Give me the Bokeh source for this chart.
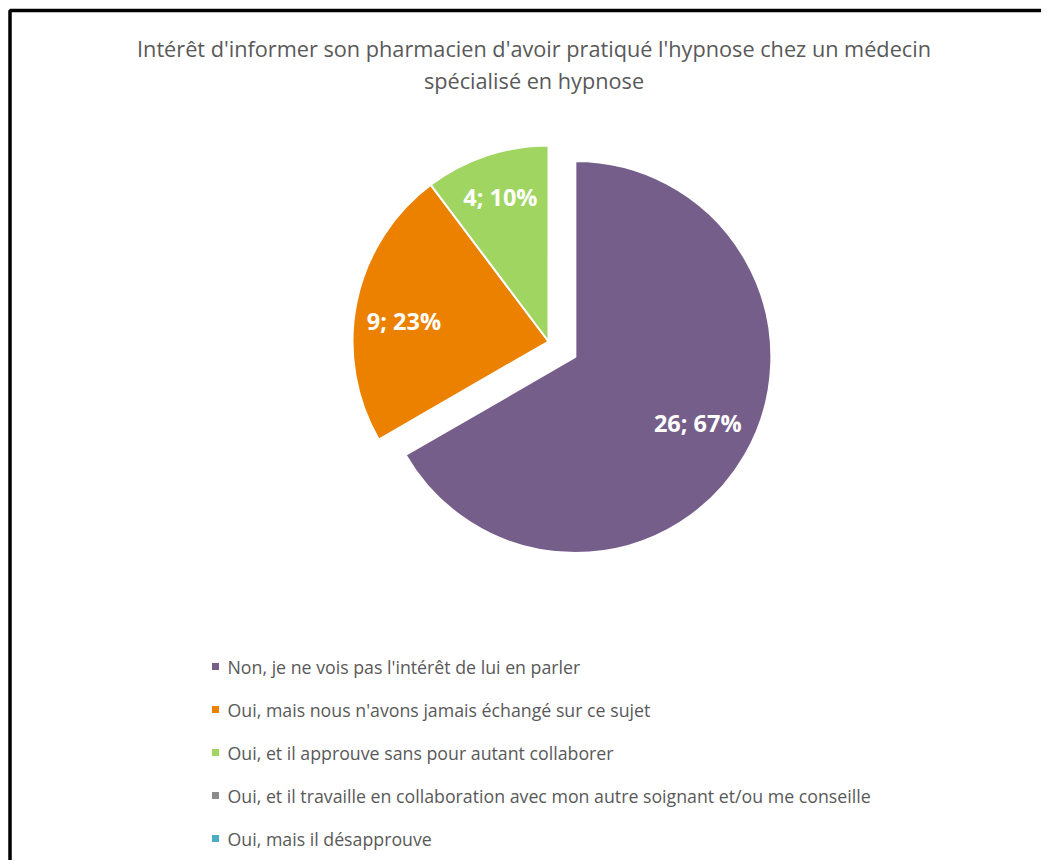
import math
from bokeh.plotting import figure
from bokeh.models import Range1d, ColumnDataSource
from bokeh.core.properties import value
from bokeh.embed import file_html
from bokeh.resources import INLINE

# ---- data ----
title_lines = ["Intérêt d'informer son pharmacien d'avoir pratiqué l'hypnose chez un médecin",
               "spécialisé en hypnose"]
categories = ["Non, je ne vois pas l'intérêt de lui en parler",
              "Oui, mais nous n'avons jamais échangé sur ce sujet",
              "Oui, et il approuve sans pour autant collaborer",
              "Oui, et il travaille en collaboration avec mon autre soignant et/ou me conseille",
              "Oui, mais il désapprouve"]
counts = [26, 9, 4, 0, 0]
colors = ["#765E8B", "#EC8100", "#A0D562", "#8C8C8C", "#4BACC6"]
explode = [31, 0, 0, 0, 0]
label_frac = [0.71, 0.745, 0.775, 0.77, 0.77]
label_shift_deg = [1.6, 3.5, 0.0, 0.0, 0.0]

# ---- layout ----
W, H = 1041, 860
FONT = "Open Sans"
TXT = "#595959"
cx, cy, R = 548, 519, 196

p = figure(width=W, height=H, x_range=Range1d(0, W), y_range=Range1d(0, H),
           output_backend="svg", toolbar_location=None, min_border=0,
           background_fill_color="white", border_fill_color="white")
p.axis.visible = False
p.grid.visible = False
p.outline_line_color = None

# frame (left & top edges visible in the reference)
p.line(x=[9.5, 9.5, W + 5], y=[-5, H - 10, H - 10], line_color="black", line_width=3.5)

total = sum(counts)
xs, ys, starts, ends, cols, lx, ly, labels = [], [], [], [], [], [], [], []
cum = 0.0
for i, c in enumerate(counts):
    frac = c / total
    a0 = math.pi / 2 - cum * 2 * math.pi
    a1 = math.pi / 2 - (cum + frac) * 2 * math.pi
    cum += frac
    if c == 0:
        continue
    mid = (a0 + a1) / 2
    ox = cx + explode[i] * math.cos(mid)
    oy = cy + explode[i] * math.sin(mid)
    xs.append(ox); ys.append(oy); starts.append(a0); ends.append(a1); cols.append(colors[i])
    la = mid + math.radians(label_shift_deg[i])
    lx.append(ox + label_frac[i] * R * math.cos(la))
    ly.append(oy + label_frac[i] * R * math.sin(la))
    labels.append(f"{c}; {round(frac * 100)}%")

src = ColumnDataSource(dict(x=xs, y=ys, s=starts, e=ends, c=cols))
p.wedge(x="x", y="y", radius=R, start_angle="s", end_angle="e", direction="clock",
        fill_color="c", line_color="white", line_width=2, source=src)

p.text(x=lx, y=ly, text=labels, text_color="white", text_font=value(FONT),
       text_font_style="bold", text_font_size="23.5px", text_align="center",
       text_baseline="middle")

# title
p.text(x=[533.5, 533.5], y=[H - 48, H - 80], text=title_lines, text_color=TXT,
       text_font=value(FONT), text_font_size="21.7px", text_align="center",
       text_baseline="middle")

# legend
leg_y = [H - 666 - 43 * i for i in range(len(categories))]
p.rect(x=[215] * len(categories), y=leg_y, width=7, height=7, fill_color=colors,
       line_color=None)
p.text(x=[227] * len(categories), y=leg_y, text=categories, text_color=TXT,
       text_font=value(FONT), text_font_size="17.75px", text_align="left",
       text_baseline="middle")

open("out.html", "w").write(file_html(p, INLINE))
